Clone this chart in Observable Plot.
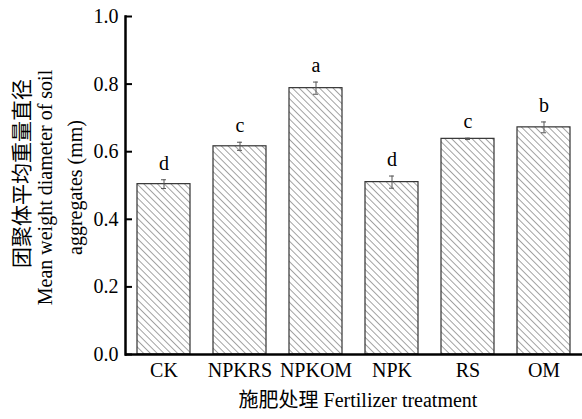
<!DOCTYPE html>
<html>
<head>
<meta charset="utf-8">
<script src="https://cdn.jsdelivr.net/npm/d3@7"></script>
<script src="https://cdn.jsdelivr.net/npm/@observablehq/plot@0.6"></script>
<style>
  html, body { margin: 0; padding: 0; background: #fff; }
  #chart svg { display: block; }
</style>
</head>
<body>
<div id="chart"></div>
<script>
const treatments = ["CK", "NPKRS", "NPKOM", "NPK", "RS", "OM"];
const mwd = [0.504, 0.616, 0.788, 0.510, 0.638, 0.672];
const errors = [0.013, 0.012, 0.018, 0.018, 0.002, 0.016];
const letters = ["d", "c", "a", "d", "c", "b"];
const yTicks = [0, 0.2, 0.4, 0.6, 0.8, 1.0];

const data = treatments.map((t, i) => ({
  treatment: t, value: mwd[i], err: errors[i], letter: letters[i],
  lo: mwd[i] - errors[i], hi: mwd[i] + errors[i]
}));

const font = "'Liberation Serif', 'Times New Roman', 'Noto Sans CJK SC', serif";
const cjk = "'Liberation Serif', 'Noto Sans CJK SC', serif";

const plot = Plot.plot({
  width: 582,
  height: 419,
  marginLeft: 125,
  marginRight: 0,
  marginTop: 16,
  marginBottom: 65,
  style: { fontFamily: font, fontSize: "20px", color: "#000", background: "#fff" },
  x: { domain: treatments, paddingInner: 0.3, paddingOuter: 0.125, label: null },
  y: { domain: [0, 1], label: null },
  marks: [
    Plot.barY(data, { x: "treatment", y: "value", fill: "url(#hatch)", stroke: "#333", strokeWidth: 1.2 }),
    Plot.ruleX(data, { x: "treatment", y1: "lo", y2: "hi", stroke: "#555", strokeWidth: 1 }),
    Plot.tickY(data, { x: "treatment", y: "lo", stroke: "#555", strokeWidth: 1, insetLeft: 24, insetRight: 24 }),
    Plot.tickY(data, { x: "treatment", y: "hi", stroke: "#555", strokeWidth: 1, insetLeft: 24, insetRight: 24 }),
    Plot.text(data, { x: "treatment", y: "hi", text: "letter", lineAnchor: "bottom", dy: -10, fontSize: 20, fill: "#000" }),
    Plot.axisY({ ticks: yTicks, tickFormat: d3.format(".1f"), tickSize: -7, tickPadding: 14, fontSize: 20, fontFamily: font, stroke: "#000", strokeWidth: 2 }),
    Plot.axisX({ tickSize: 0, tickPadding: 8, fontSize: 20, fontFamily: font }),
    Plot.frame({ anchor: "left", stroke: "#000", strokeWidth: 2.5 }),
    Plot.ruleY([0], { stroke: "#000", strokeWidth: 2.5 }),
    Plot.text(["团聚体平均重量直径"], { frameAnchor: "left", textAnchor: "middle", lineAnchor: "middle", rotate: -90, dx: -103, dy: -12, fontSize: 21, fontFamily: cjk, fill: "#000" }),
    Plot.text(["Mean weight diameter of soil"], { frameAnchor: "left", textAnchor: "middle", lineAnchor: "middle", rotate: -90, dx: -80, dy: 2, fontSize: 20, fill: "#000" }),
    Plot.text(["aggregates (mm)"], { frameAnchor: "left", textAnchor: "middle", lineAnchor: "middle", rotate: -90, dx: -50, dy: 2, fontSize: 20, fill: "#000" }),
    Plot.text(["施肥处理 Fertilizer treatment"], { frameAnchor: "bottom", textAnchor: "middle", lineAnchor: "middle", dx: 4, dy: 46, fontSize: 20, fontFamily: cjk, fill: "#000" })
  ]
});

const svg = d3.select(plot);
const defs = svg.insert("defs", ":first-child");
const s = 4.8;
const pat = defs.append("pattern")
  .attr("id", "hatch")
  .attr("patternUnits", "userSpaceOnUse")
  .attr("width", s)
  .attr("height", s)
  .attr("patternTransform", "rotate(-45)");
pat.append("rect").attr("width", s).attr("height", s).attr("fill", "#fff");
pat.append("line").attr("x1", 0).attr("y1", 0).attr("x2", 0).attr("y2", s)
  .attr("stroke", "#333").attr("stroke-width", 0.9);

document.getElementById("chart").appendChild(plot);
</script>
</body>
</html>
